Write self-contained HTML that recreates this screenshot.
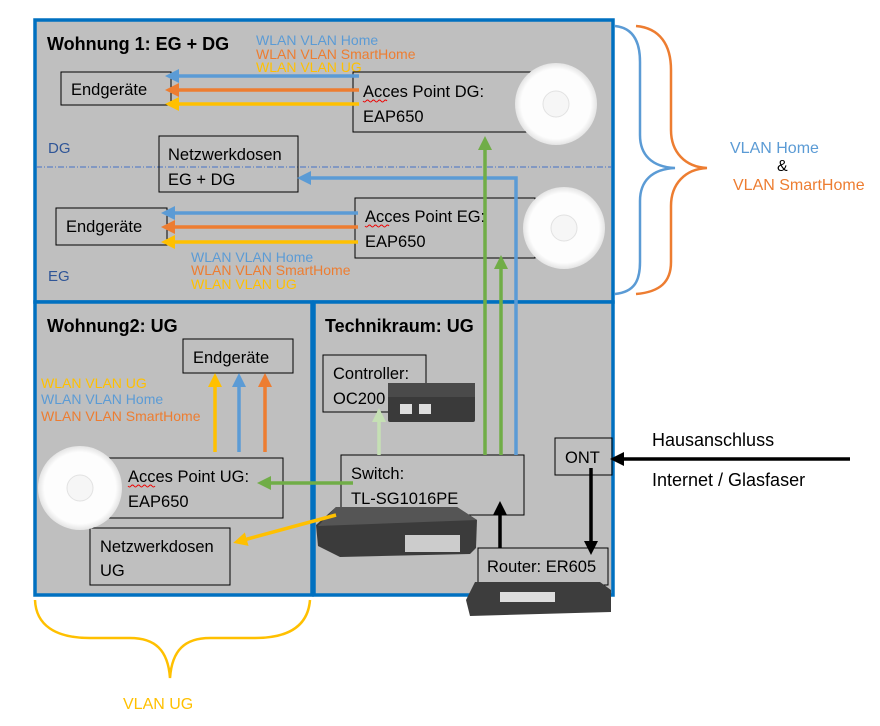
<!DOCTYPE html>
<html><head><meta charset="utf-8"><style>
html,body{margin:0;padding:0;background:#fff;}
svg{display:block;}
text{font-family:"Liberation Sans",sans-serif;}
</style></head><body>
<svg width="880" height="726" viewBox="0 0 880 726" xmlns="http://www.w3.org/2000/svg">
<defs>
<marker id="ab" markerWidth="4" markerHeight="4" refX="2" refY="2" orient="auto" markerUnits="strokeWidth"><path d="M0,0 L4,2 L0,4 z" fill="#5b9bd5"/></marker>
<marker id="ao" markerWidth="4" markerHeight="4" refX="2" refY="2" orient="auto" markerUnits="strokeWidth"><path d="M0,0 L4,2 L0,4 z" fill="#ed7d31"/></marker>
<marker id="ay" markerWidth="4" markerHeight="4" refX="2" refY="2" orient="auto" markerUnits="strokeWidth"><path d="M0,0 L4,2 L0,4 z" fill="#ffc000"/></marker>
<marker id="ag" markerWidth="4" markerHeight="4" refX="2" refY="2" orient="auto" markerUnits="strokeWidth"><path d="M0,0 L4,2 L0,4 z" fill="#70ad47"/></marker>
<marker id="al" markerWidth="4" markerHeight="4" refX="2" refY="2" orient="auto" markerUnits="strokeWidth"><path d="M0,0 L4,2 L0,4 z" fill="#c5e0b4"/></marker>
<marker id="ak" markerWidth="4" markerHeight="4" refX="2" refY="2" orient="auto" markerUnits="strokeWidth"><path d="M0,0 L4,2 L0,4 z" fill="#000"/></marker>
<radialGradient id="disc" cx="50%" cy="50%" r="50%"><stop offset="0.85" stop-color="#fdfdfd"/><stop offset="1" stop-color="#e4e4e4"/></radialGradient>
</defs>

<rect x="35" y="20" width="578" height="282" fill="#bfbfbf" stroke="#0070c0" stroke-width="3.5"/>
<rect x="35" y="302" width="277" height="293" fill="#bfbfbf" stroke="#0070c0" stroke-width="3.5"/>
<rect x="314" y="302" width="299" height="293" fill="#bfbfbf" stroke="#0070c0" stroke-width="3.5"/>
<line x1="36" y1="167" x2="612" y2="167" stroke="#4472c4" stroke-width="1" stroke-dasharray="6,2,1,2"/>

<text x="47" y="50" font-size="18" font-weight="bold">Wohnung 1: EG + DG</text>
<text x="47" y="332" font-size="18" font-weight="bold">Wohnung2: UG</text>
<text x="325" y="332" font-size="18" font-weight="bold">Technikraum: UG</text>
<text x="48" y="153" font-size="15" fill="#2f5597">DG</text>
<text x="48" y="281" font-size="15" fill="#2f5597">EG</text>

<g font-size="14">
<text x="256" y="45" fill="#5b9bd5">WLAN VLAN Home</text>
<text x="256" y="59" fill="#ed7d31">WLAN VLAN SmartHome</text>
<text x="256" y="72" fill="#ffc000">WLAN  VLAN UG</text>
<text x="191" y="262" fill="#5b9bd5">WLAN VLAN Home</text>
<text x="191" y="275" fill="#ed7d31">WLAN VLAN SmartHome</text>
<text x="191" y="289" fill="#ffc000">WLAN  VLAN UG</text>
<text x="41" y="388" fill="#ffc000">WLAN  VLAN UG</text>
<text x="41" y="404" fill="#5b9bd5">WLAN VLAN Home</text>
<text x="41" y="421" fill="#ed7d31">WLAN VLAN SmartHome</text>
</g>

<g fill="none" stroke="#000" stroke-width="1">
<rect x="61" y="72" width="110" height="33"/>
<rect x="353" y="72" width="180" height="60"/>
<rect x="159" y="136" width="139" height="56"/>
<rect x="56" y="208" width="111" height="37"/>
<rect x="355" y="198" width="180" height="60"/>
<rect x="183" y="339" width="110" height="34"/>
<rect x="107" y="458" width="176" height="60"/>
<rect x="90" y="528" width="140" height="57"/>
<rect x="323" y="355" width="103" height="57"/>
<rect x="341" y="455" width="183" height="60"/>
<rect x="555" y="438" width="57" height="37"/>
<rect x="478" y="548" width="130" height="37"/>
</g>

<g font-size="16.5">
<text x="71" y="95">Endgeräte</text>
<text x="363" y="97">Acces Point DG:</text>
<text x="363" y="122">EAP650</text>
<text x="168" y="160">Netzwerkdosen</text>
<text x="168" y="185">EG + DG</text>
<text x="66" y="232">Endgeräte</text>
<text x="365" y="222">Acces Point EG:</text>
<text x="365" y="247">EAP650</text>
<text x="193" y="363">Endgeräte</text>
<text x="128" y="482">Acces Point UG:</text>
<text x="128" y="507">EAP650</text>
<text x="100" y="552">Netzwerkdosen</text>
<text x="100" y="576">UG</text>
<text x="333" y="379">Controller:</text>
<text x="333" y="404">OC200</text>
<text x="351" y="479">Switch:</text>
<text x="351" y="504">TL-SG1016PE</text>
<text x="565" y="463">ONT</text>
<text x="487" y="572">Router: ER605</text>
</g>
<text x="652" y="446" font-size="18">Hausanschluss</text>
<text x="652" y="486" font-size="18">Internet / Glasfaser</text>
<g stroke="#e00" stroke-width="1" fill="none">
<path d="M363,101 q1.5,2 3,0 t3,0 t3,0 t3,0 t3,0 t3,0 t3,0 t3,0"/>
<path d="M365,226 q1.5,2 3,0 t3,0 t3,0 t3,0 t3,0 t3,0 t3,0 t3,0"/>
<path d="M128,486 q1.5,2 3,0 t3,0 t3,0 t3,0 t3,0 t3,0 t3,0 t3,0 t3,0"/>
</g>

<circle cx="556" cy="104" r="41" fill="url(#disc)"/>
<circle cx="556" cy="104" r="13" fill="#f6f6f6" stroke="#e2e2e2"/>
<circle cx="564" cy="228" r="41" fill="url(#disc)"/>
<circle cx="564" cy="228" r="13" fill="#f6f6f6" stroke="#e2e2e2"/>
<circle cx="80" cy="488" r="42" fill="url(#disc)"/>
<circle cx="80" cy="488" r="13" fill="#f6f6f6" stroke="#e2e2e2"/>

<rect x="388" y="383" width="87" height="39" rx="2" fill="#3a3a3a"/>
<rect x="388" y="383" width="87" height="14" fill="#4a4a4a"/>
<rect x="400" y="404" width="12" height="10" fill="#ddd"/><rect x="419" y="404" width="12" height="10" fill="#ddd"/>
<polygon points="336,507 457,507 477,520 476,548 470,554 340,557 318,546 316,525" fill="#3b3b3b"/>
<polygon points="336,507 457,507 477,520 318,526" fill="#555"/>
<rect x="405" y="535" width="55" height="17" fill="#ccc"/>
<polygon points="475,582 600,582 611,590 611,612 470,616 466,600" fill="#3d3d3d"/>
<rect x="500" y="592" width="55" height="10" fill="#ddd"/>

<g stroke-width="3.5" fill="none">
<line x1="359" y1="76" x2="172" y2="76" stroke="#5b9bd5" marker-end="url(#ab)"/>
<line x1="359" y1="90" x2="172" y2="90" stroke="#ed7d31" marker-end="url(#ao)"/>
<line x1="359" y1="104" x2="172" y2="104" stroke="#ffc000" marker-end="url(#ay)"/>
<line x1="358" y1="213" x2="168" y2="213" stroke="#5b9bd5" marker-end="url(#ab)"/>
<line x1="358" y1="227" x2="168" y2="227" stroke="#ed7d31" marker-end="url(#ao)"/>
<line x1="358" y1="242" x2="168" y2="242" stroke="#ffc000" marker-end="url(#ay)"/>
<polyline points="516,455 516,178 304,178" stroke="#5b9bd5" marker-end="url(#ab)"/>
<line x1="485" y1="455" x2="485" y2="143" stroke="#70ad47" marker-end="url(#ag)"/>
<line x1="501" y1="455" x2="501" y2="262" stroke="#70ad47" marker-end="url(#ag)"/>
<line x1="215" y1="452" x2="215" y2="380" stroke="#ffc000" marker-end="url(#ay)"/>
<line x1="239" y1="452" x2="239" y2="380" stroke="#5b9bd5" marker-end="url(#ab)"/>
<line x1="265" y1="452" x2="265" y2="380" stroke="#ed7d31" marker-end="url(#ao)"/>
<line x1="353" y1="483" x2="264" y2="483" stroke="#70ad47" marker-end="url(#ag)"/>
<line x1="379" y1="455" x2="379" y2="415" stroke="#c5e0b4" marker-end="url(#al)"/>
<line x1="336" y1="515" x2="240" y2="541" stroke="#ffc000" marker-end="url(#ay)"/>
<line x1="500" y1="548" x2="500" y2="508" stroke="#000" marker-end="url(#ak)"/>
<line x1="591" y1="468" x2="591" y2="548" stroke="#000" marker-end="url(#ak)"/>
<line x1="850" y1="459" x2="617" y2="459" stroke="#000" marker-end="url(#ak)"/>
</g>

<g fill="none" stroke-width="2.5">
<path d="M615,26 C635,28 640,45 640,62 L640,135 C640,155 652,167 675,168 C652,169 640,181 640,201 L640,262 C640,280 635,292 615,294" stroke="#5b9bd5"/>
<path d="M636,26 C660,28 671,45 671,70 L671,130 C671,152 685,167 707,168 C685,169 671,184 671,206 L671,262 C671,282 660,292 636,294" stroke="#ed7d31"/>
<path d="M35,600 C36,625 55,638 90,638 L130,638 C155,638 168,650 170,678 C172,650 185,638 210,638 L255,638 C290,638 308,625 310,600" stroke="#ffc000"/>
</g>
<text x="730" y="153" font-size="16" fill="#5b9bd5">VLAN Home</text>
<text x="777" y="171" font-size="16" fill="#000">&amp;</text>
<text x="733" y="190" font-size="16" fill="#ed7d31">VLAN SmartHome</text>
<text x="123" y="709" font-size="16" fill="#ffc000">VLAN UG</text>
</svg>
</body></html>
